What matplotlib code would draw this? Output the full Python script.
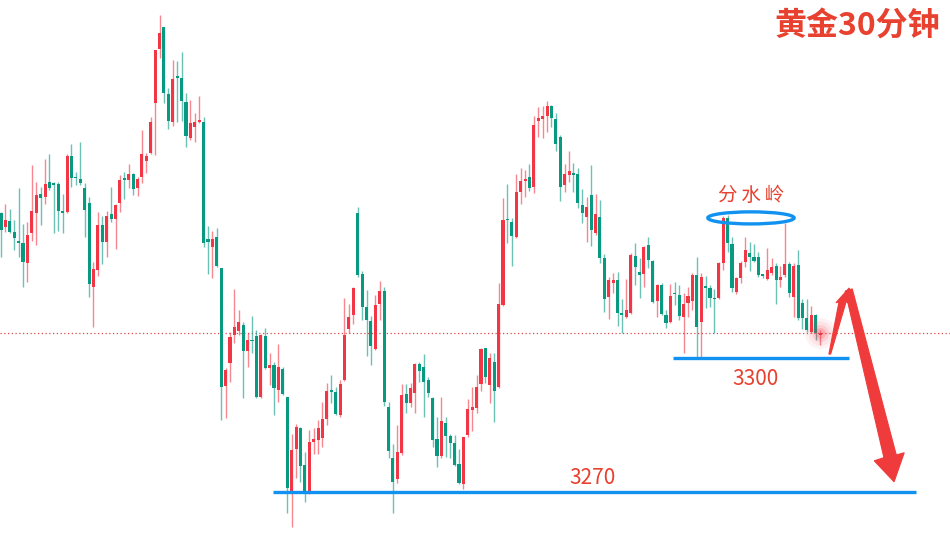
import numpy as np
import matplotlib.pyplot as plt
from matplotlib.patches import Ellipse, Polygon

plt.rcParams['font.family'] = ['Noto Sans CJK SC', 'DejaVu Sans']

# 30-minute gold candles
opens = [3332.4, 3329.3, 3330.6, 3328.1, 3325.9, 3325.7, 3321.2, 3327.9, 3332.4, 3336.6,
         3336.0, 3339.3, 3339.1, 3338.9, 3332.7, 3332.6, 3345.2, 3340.5, 3340.0, 3338.0,
         3334.6, 3315.8, 3319.6, 3329.7, 3325.9, 3332.2, 3331.0, 3334.6, 3340.0, 3339.8,
         3341.1, 3338.0, 3340.5, 3344.0, 3345.8, 3357.0, 3369.1, 3374.1, 3359.0, 3352.8,
         3363.1, 3362.6, 3357.3, 3349.2, 3351.7, 3352.8, 3352.8, 3326.6, 3324.8, 3327.0,
         3320.1, 3293.6, 3298.8, 3305.1, 3306.0, 3307.3, 3301.5, 3303.9, 3304.8, 3291.2,
         3304.8, 3297.7, 3298.3, 3292.7, 3297.4, 3291.2, 3269.9, 3279.5, 3284.2, 3275.9,
         3269.7, 3281.1, 3281.5, 3282.0, 3286.2, 3292.5, 3292.3, 3287.1, 3295.0, 3306.4,
         3309.5, 3332.4, 3318.7, 3311.3, 3308.2, 3301.9, 3312.0, 3314.9, 3288.9, 3277.5,
         3272.8, 3278.6, 3291.9, 3289.8, 3292.1, 3298.6, 3297.9, 3295.0, 3290.9, 3281.8,
         3278.0, 3285.3, 3282.4, 3280.9, 3276.1, 3271.7, 3282.7, 3288.3, 3288.7, 3294.1,
         3302.1, 3293.9, 3299.0, 3293.4, 3311.8, 3331.0, 3330.4, 3327.0, 3337.1, 3339.6,
         3340.5, 3338.2, 3353.0, 3353.5, 3354.1, 3356.4, 3353.5, 3349.4, 3338.7, 3340.9,
         3341.1, 3341.1, 3334.2, 3331.5, 3336.4, 3327.9, 3331.5, 3322.3, 3313.6, 3316.7,
         3317.4, 3310.0, 3309.1, 3310.0, 3322.8, 3319.2, 3318.7, 3325.2, 3321.6, 3312.7,
         3316.3, 3309.5, 3308.0, 3314.5, 3314.0, 3309.1, 3312.2, 3312.7, 3318.5, 3308.0,
         3315.8, 3315.6, 3313.3, 3313.3, 3321.2, 3331.3, 3325.5, 3314.7, 3317.8, 3321.4,
         3323.4, 3322.5, 3322.5, 3318.5, 3317.6, 3318.9, 3320.5, 3317.4, 3318.5, 3321.0,
         3313.6, 3320.7, 3312.2, 3308.9, 3305.7, 3309.5, 3305.1]
highs = [3332.6, 3334.4, 3333.3, 3330.8, 3338.0, 3329.9, 3330.4, 3343.1, 3339.3, 3338.2,
         3344.5, 3345.6, 3339.3, 3339.3, 3336.6, 3345.6, 3347.8, 3341.6, 3348.3, 3339.1,
         3336.0, 3321.4, 3332.6, 3331.7, 3332.8, 3338.2, 3334.4, 3340.9, 3341.6, 3343.4,
         3341.3, 3340.5, 3351.0, 3345.8, 3353.9, 3368.9, 3376.7, 3374.1, 3360.4, 3366.7,
         3366.4, 3368.5, 3359.3, 3357.7, 3354.8, 3358.6, 3353.9, 3329.5, 3328.4, 3329.0,
         3320.1, 3297.7, 3305.7, 3315.4, 3310.7, 3308.0, 3305.5, 3309.3, 3306.2, 3305.3,
         3306.6, 3301.0, 3299.0, 3303.0, 3297.9, 3291.2, 3282.9, 3285.1, 3284.5, 3278.9,
         3283.8, 3284.2, 3286.0, 3290.1, 3294.3, 3296.1, 3293.4, 3295.0, 3313.3, 3312.0,
         3315.8, 3333.7, 3319.4, 3315.2, 3309.3, 3314.0, 3317.2, 3315.8, 3290.1, 3280.7,
         3284.9, 3294.1, 3294.1, 3294.3, 3298.8, 3299.0, 3300.8, 3295.7, 3291.2, 3286.7,
         3291.2, 3286.7, 3282.9, 3282.7, 3279.5, 3282.3, 3290.7, 3293.4, 3296.1, 3302.1,
         3302.2, 3301.0, 3301.0, 3316.7, 3335.7, 3338.9, 3331.3, 3341.1, 3342.5, 3342.0,
         3343.4, 3354.1, 3356.1, 3356.4, 3357.5, 3356.6, 3354.8, 3349.9, 3343.4, 3346.3,
         3343.6, 3342.5, 3337.8, 3336.0, 3343.1, 3336.6, 3335.3, 3323.2, 3318.1, 3318.9,
         3319.2, 3313.1, 3317.6, 3323.4, 3325.7, 3322.3, 3325.0, 3327.0, 3321.9, 3316.5,
         3316.7, 3310.7, 3316.5, 3316.9, 3316.3, 3314.5, 3315.8, 3319.0, 3322.5, 3319.0,
         3318.3, 3316.3, 3315.4, 3321.4, 3331.7, 3331.9, 3327.0, 3318.1, 3321.6, 3327.0,
         3325.9, 3325.4, 3323.7, 3318.7, 3324.5, 3322.3, 3321.2, 3320.5, 3330.1, 3321.4,
         3321.2, 3324.1, 3313.1, 3313.1, 3311.6, 3309.8, 3306.2]
lows = [3322.5, 3328.1, 3327.9, 3324.1, 3322.5, 3315.8, 3316.9, 3326.1, 3325.2, 3329.7,
        3334.4, 3337.5, 3327.9, 3328.4, 3327.9, 3332.4, 3338.2, 3338.7, 3338.7, 3327.0,
        3313.6, 3306.9, 3318.3, 3321.0, 3322.5, 3330.4, 3324.3, 3332.6, 3335.5, 3338.0,
        3336.4, 3336.2, 3339.1, 3341.3, 3345.6, 3345.4, 3367.1, 3357.0, 3351.2, 3351.9,
        3352.8, 3353.0, 3347.2, 3348.7, 3348.3, 3352.6, 3324.8, 3318.7, 3317.8, 3320.3,
        3286.0, 3286.5, 3294.5, 3303.3, 3305.1, 3290.9, 3297.9, 3301.0, 3291.0, 3291.0,
        3297.4, 3293.9, 3287.1, 3290.1, 3291.6, 3265.2, 3262.1, 3273.0, 3272.1, 3267.7,
        3269.5, 3278.4, 3278.4, 3280.0, 3284.9, 3289.8, 3287.1, 3286.7, 3294.8, 3305.5,
        3307.5, 3318.0, 3308.4, 3300.4, 3298.3, 3301.7, 3308.5, 3289.2, 3277.5, 3265.2,
        3271.9, 3278.2, 3287.6, 3288.9, 3287.6, 3294.5, 3286.7, 3291.2, 3280.0, 3275.5,
        3277.5, 3277.7, 3277.5, 3275.7, 3271.8, 3270.6, 3282.2, 3283.6, 3287.6, 3292.5,
        3294.3, 3289.8, 3285.6, 3293.2, 3311.6, 3325.7, 3320.5, 3326.8, 3334.4, 3336.0,
        3337.3, 3336.9, 3349.4, 3349.2, 3350.5, 3351.7, 3346.3, 3335.1, 3337.1, 3339.3,
        3337.1, 3333.5, 3330.1, 3325.9, 3325.0, 3327.5, 3321.2, 3310.2, 3308.6, 3314.5,
        3307.1, 3305.5, 3308.9, 3309.8, 3316.3, 3313.3, 3315.8, 3320.1, 3312.2, 3309.1,
        3309.6, 3306.6, 3307.7, 3311.8, 3308.5, 3301.0, 3309.1, 3310.7, 3299.9, 3299.9,
        3311.1, 3311.3, 3305.5, 3313.1, 3319.6, 3323.7, 3314.7, 3314.2, 3316.7, 3320.3,
        3319.4, 3321.4, 3318.1, 3317.8, 3317.4, 3318.5, 3312.0, 3315.8, 3318.1, 3313.6,
        3309.1, 3308.4, 3306.4, 3305.7, 3305.5, 3304.0, 3302.8]
closes = [3328.6, 3330.8, 3328.1, 3326.8, 3325.7, 3321.4, 3327.5, 3332.8, 3336.4, 3335.7,
          3338.9, 3338.0, 3338.7, 3332.8, 3332.5, 3345.2, 3340.2, 3340.2, 3339.1, 3333.1,
          3316.5, 3319.8, 3329.7, 3325.9, 3331.7, 3331.0, 3334.2, 3339.8, 3339.8, 3341.1,
          3337.8, 3340.0, 3345.6, 3345.2, 3352.8, 3368.9, 3372.7, 3359.3, 3353.0, 3362.4,
          3362.6, 3357.5, 3349.6, 3352.5, 3352.8, 3353.0, 3325.7, 3325.9, 3326.6, 3320.5,
          3293.4, 3297.2, 3304.6, 3306.9, 3308.0, 3301.5, 3303.9, 3303.7, 3291.2, 3305.1,
          3297.7, 3298.3, 3293.2, 3297.9, 3291.8, 3270.8, 3279.3, 3284.5, 3275.7, 3269.7,
          3281.1, 3281.8, 3284.2, 3286.2, 3292.5, 3292.3, 3287.4, 3294.1, 3305.1, 3309.1,
          3315.6, 3318.5, 3311.3, 3308.4, 3302.6, 3311.8, 3314.9, 3290.1, 3279.1, 3272.1,
          3278.9, 3291.6, 3289.8, 3293.2, 3298.6, 3297.0, 3294.5, 3292.1, 3281.5, 3278.0,
          3285.8, 3282.4, 3280.9, 3275.9, 3271.9, 3282.2, 3288.5, 3288.9, 3293.4, 3301.9,
          3295.7, 3299.9, 3292.5, 3312.0, 3330.8, 3330.8, 3327.2, 3337.1, 3339.6, 3339.8,
          3338.0, 3352.1, 3353.7, 3354.1, 3356.4, 3353.7, 3347.8, 3338.2, 3341.1, 3341.8,
          3340.9, 3334.6, 3332.4, 3333.7, 3328.6, 3332.2, 3322.3, 3313.1, 3317.4, 3317.4,
          3310.0, 3309.5, 3310.7, 3323.0, 3320.3, 3318.5, 3324.8, 3321.9, 3312.5, 3316.3,
          3309.8, 3307.7, 3313.8, 3314.2, 3309.3, 3312.0, 3313.8, 3318.5, 3306.9, 3318.1,
          3315.6, 3313.3, 3313.1, 3321.2, 3331.3, 3325.7, 3315.6, 3317.8, 3321.2, 3324.1,
          3322.5, 3321.6, 3318.5, 3318.3, 3319.6, 3320.3, 3317.4, 3318.1, 3321.0, 3314.5,
          3320.5, 3308.9, 3308.9, 3306.2, 3309.5, 3305.5, 3305.5]

support_high = 3300
support_low = 3270
last_price = 3305.5
title = '黄金30分钟'
ridge_label = '分水岭'

up_color = '#f23645'
down_color = '#089981'
blue = '#1192f0'
text_red = '#e8412f'

o = np.array(opens)
h = np.array(highs)
l = np.array(lows)
c = np.array(closes)
x = np.arange(len(o))
up = c >= o
colors = np.where(up, up_color, down_color)

fig = plt.figure(figsize=(9.5, 5.55), dpi=100)
ax = fig.add_axes([0, 0, 1, 1])
ax.set_xlim(-0.23, 215.5)
ax.set_ylim(3255.8, 3380.1)
ax.axis('off')

# last price dotted line
ax.axhline(last_price, color='#e0474c', lw=0.9, ls=(0, (1, 2)), zorder=1)

# candles
ax.vlines(x, l, h, colors=colors, lw=1.0, alpha=0.6, zorder=2)
body = np.maximum(np.abs(c - o), 0.35)
ax.bar(x, body, bottom=np.minimum(o, c), width=0.7, color=colors, zorder=3)

# glow on last candle
for s, a in [(500, 0.06), (300, 0.08), (150, 0.12), (60, 0.2)]:
    ax.scatter([x[-1]], [c[-1]], s=s, color=up_color, alpha=a, lw=0, zorder=4)

# support lines
ax.hlines(support_high, 152.6, 192.6, color=blue, lw=2.4, zorder=5)
ax.hlines(support_low, 61.8, 207.8, color=blue, lw=2.4, zorder=5)
ax.text(171.4, 3295.3, str(support_high), color=text_red, fontsize=15,
        ha='center', va='center')
ax.text(134.4, 3273.0, str(support_low), color=text_red, fontsize=15,
        ha='center', va='center')

# watershed ellipse
ax.add_patch(Ellipse((170.3, 3331.3), 19.6, 2.7, fill=False, ec=blue, lw=2.4, zorder=6))
ax.text(170.3, 3336.4, '\u2009'.join(ridge_label), color=text_red, fontsize=14,
        ha='center', va='center', family=['Noto Sans CJK SC', 'DejaVu Sans'])

# hand drawn arrows
up_arrow = [(188.0, 3300.8), (190.3, 3312.5), (189.6, 3312.3), (192.6, 3315.6),
            (193.0, 3312.0), (191.9, 3312.5), (188.4, 3300.8)]
down_arrow = [(191.7, 3314.9), (193.3, 3315.4), (203.3, 3278.2), (205.1, 3278.7),
              (202.8, 3272.2), (198.3, 3276.9), (200.5, 3277.6)]
for pts in (up_arrow, down_arrow):
    ax.add_patch(Polygon(pts, closed=True, fc='#ef3b3b', ec='#ef3b3b', lw=0.8, zorder=6))

ax.text(194.4, 3374.1, title, color=text_red, fontsize=23, fontweight='bold',
        ha='center', va='center')

fig.savefig('out.png', dpi=100)
